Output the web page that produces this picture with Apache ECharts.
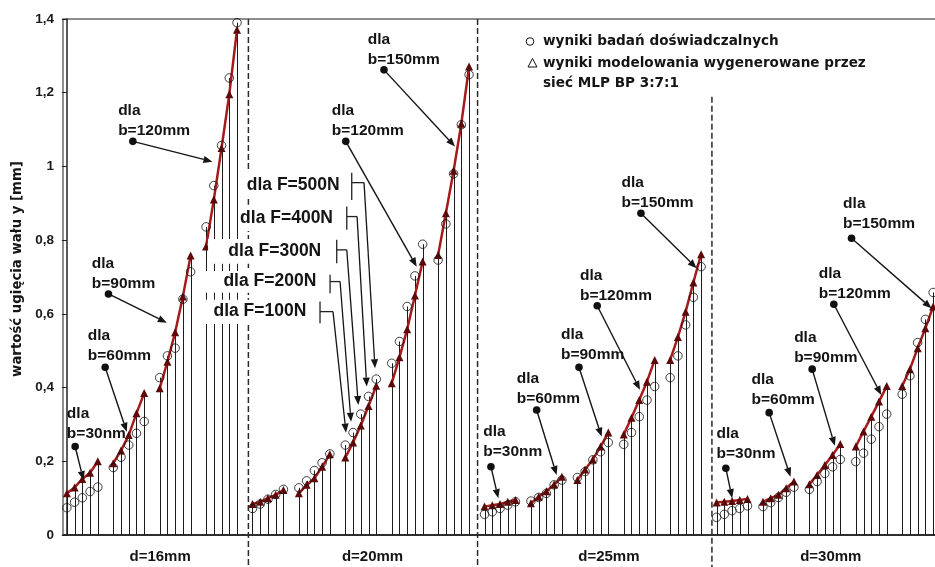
<!DOCTYPE html>
<html>
<head>
<meta charset="utf-8">
<script src="https://cdn.jsdelivr.net/npm/echarts@6/dist/echarts.min.js"></script>
<style>
  html, body { margin: 0; padding: 0; background: #fff; }
  #chart { width: 935px; height: 567px; }
</style>
</head>
<body>
<div id="chart"></div>
<script>
// Shaft deflection y [mm]: experiment vs. MLP BP 3:7:1 network model,
// grouped by shaft diameter d, then bearing spacing b, then load F.
const diameters = ['d=16mm', 'd=20mm', 'd=25mm', 'd=30mm'];
const widthsD16 = [30, 60, 90, 120];
const widthsOther = [30, 60, 90, 120, 150];
const forcesN = [100, 200, 300, 400, 500];
const yTicks = [0, 0.2, 0.4, 0.6, 0.8, 1, 1.2, 1.4];

// rows: b values, columns: F = 100..500 N
const expD16 = [
  [0.074, 0.089, 0.101, 0.118, 0.130],
  [0.183, 0.211, 0.244, 0.276, 0.308],
  [0.427, 0.486, 0.507, 0.640, 0.714],
  [0.836, 0.948, 1.057, 1.240, 1.390]
];
const modelD16 = [
  [0.113, 0.129, 0.152, 0.169, 0.200],
  [0.195, 0.229, 0.271, 0.330, 0.385],
  [0.398, 0.470, 0.550, 0.647, 0.758],
  [0.783, 0.910, 1.050, 1.196, 1.371]
];
const expD20 = [
  [0.072, 0.084, 0.097, 0.110, 0.124],
  [0.128, 0.147, 0.175, 0.196, 0.220],
  [0.244, 0.278, 0.328, 0.376, 0.423],
  [0.466, 0.525, 0.620, 0.703, 0.789],
  [0.746, 0.844, 0.980, 1.113, 1.249]
];
const modelD20 = [
  [0.084, 0.090, 0.100, 0.109, 0.122],
  [0.113, 0.136, 0.154, 0.185, 0.219],
  [0.210, 0.251, 0.297, 0.350, 0.405],
  [0.412, 0.482, 0.558, 0.650, 0.742],
  [0.760, 0.873, 0.988, 1.116, 1.271]
];
const expD25 = [
  [0.056, 0.063, 0.072, 0.081, 0.090],
  [0.092, 0.102, 0.113, 0.136, 0.149],
  [0.156, 0.172, 0.204, 0.226, 0.251],
  [0.246, 0.278, 0.321, 0.366, 0.403],
  [0.427, 0.486, 0.570, 0.645, 0.728]
];
const modelD25 = [
  [0.077, 0.081, 0.084, 0.090, 0.095],
  [0.086, 0.104, 0.119, 0.137, 0.158],
  [0.149, 0.178, 0.205, 0.240, 0.278],
  [0.273, 0.318, 0.366, 0.416, 0.475],
  [0.475, 0.537, 0.606, 0.685, 0.762]
];
const expD30 = [
  [0.048, 0.056, 0.066, 0.072, 0.079],
  [0.077, 0.088, 0.102, 0.116, 0.130],
  [0.124, 0.145, 0.167, 0.185, 0.205],
  [0.199, 0.222, 0.260, 0.294, 0.328],
  [0.382, 0.432, 0.522, 0.585, 0.658]
];
const modelD30 = [
  [0.088, 0.090, 0.092, 0.095, 0.098],
  [0.090, 0.100, 0.109, 0.127, 0.145],
  [0.138, 0.163, 0.190, 0.217, 0.247],
  [0.240, 0.281, 0.321, 0.362, 0.404],
  [0.404, 0.450, 0.507, 0.561, 0.620]
];

const groups = [
  { widths: widthsD16,   exp: expD16, model: modelD16 },
  { widths: widthsOther, exp: expD20, model: modelD20 },
  { widths: widthsOther, exp: expD25, model: modelD25 },
  { widths: widthsOther, exp: expD30, model: modelD30 }
];

// Each (d, b, F) case gets its own slot on the x scale; one empty slot
// separates consecutive b-series (and consecutive diameters).
const expPts = [], modelPts = [], dropPts = [];
let slot = 0;
groups.forEach(g => {
  g.widths.forEach((b, bi) => {
    forcesN.forEach((f, fi) => {
      const e = g.exp[bi][fi], m = g.model[bi][fi];
      expPts.push([slot, e]);
      modelPts.push([slot, m]);
      dropPts.push([slot, Math.max(e, m)]);
      slot++;
    });
    modelPts.push([slot, '-']);   // break the model line between b-series
    slot++;
  });
});

// ---- annotation layout, in axis units (slot, deflection) ----
// [label, text x, text y (block centre), dot x, dot y, arrow tip x, arrow tip y]
const bCallouts = [
  ['dla\nb=30nm',   0.00, 0.302,   1.07, 0.240,   2.15, 0.149],
  ['dla\nb=60mm',   2.71, 0.514,   4.95, 0.455,   7.75, 0.280],
  ['dla\nb=90mm',   3.23, 0.710,   5.38, 0.654,  12.92, 0.576],
  ['dla\nb=120mm',  6.63, 1.124,   8.53, 1.068,  18.82, 1.013],
  ['dla\nb=120mm', 34.25, 1.124,  36.06, 1.068,  45.23, 0.728],
  ['dla\nb=150mm', 38.90, 1.317,  41.00, 1.262,  50.18, 1.054],
  ['dla\nb=30nm',  53.84, 0.252,  54.83, 0.185,  55.78, 0.100],
  ['dla\nb=60mm',  58.16, 0.398,  60.74, 0.339,  63.32, 0.163],
  ['dla\nb=90mm',  63.88, 0.516,  66.21, 0.455,  69.14, 0.267],
  ['dla\nb=120mm', 66.34, 0.676,  68.57, 0.622,  74.10, 0.394],
  ['dla\nb=150mm', 71.72, 0.928,  74.22, 0.873,  81.42, 0.724],
  ['dla\nb=30nm',  84.00, 0.249,  85.20, 0.181,  86.02, 0.100],
  ['dla\nb=60mm',  88.52, 0.394,  90.80, 0.332,  93.56, 0.158],
  ['dla\nb=90mm',  94.03, 0.507,  96.36, 0.450,  99.29, 0.242],
  ['dla\nb=120mm', 97.22, 0.682,  99.16, 0.626, 105.30, 0.380],
  ['dla\nb=150mm',100.36, 0.872, 101.45, 0.805, 111.79, 0.615]
];
// load callouts pointing into the d=20mm, b=90mm series
const fCallouts = [
  { text: 'dla F=500N', tx: 23.26, ty: 0.950, box: [22.78, 36.22, 0.912, 0.988], barX: 36.83, bar: [0.909, 0.983], stubY: 0.956, stubX: 38.42, tip: [39.84, 0.4525] },
  { text: 'dla F=400N', tx: 22.40, ty: 0.860, box: [22.14, 35.58, 0.825, 0.896], barX: 36.19, bar: [0.828, 0.891], stubY: 0.864, stubX: 37.52, tip: [38.77, 0.4026] },
  { text: 'dla F=300N', tx: 20.88, ty: 0.769, box: [18.26, 34.28, 0.736, 0.803], barX: 34.89, bar: [0.7375, 0.801], stubY: 0.7736, stubX: 36.19, tip: [37.68, 0.353] },
  { text: 'dla F=200N', tx: 20.24, ty: 0.6876, box: [17.23, 33.51, 0.657, 0.7166], barX: 34.03, bar: [0.656, 0.7058], stubY: 0.6876, stubX: 35.32, tip: [36.74, 0.3075] },
  { text: 'dla F=100N', tx: 18.95, ty: 0.6061, box: [17.23, 32.22, 0.5727, 0.638], barX: 32.73, bar: [0.5747, 0.6333], stubY: 0.6061, stubX: 34.41, tip: [36.09, 0.2777] }
];
// dashed separators between diameters: [x, top]
const separators = [[23.47, 1.4], [53.1, 1.4], [83.4, 1.189]];
const separatorBottom = -0.09;
// centres of the diameter captions under the axis
const diameterLabelX = [12.06, 39.52, 70.08, 98.77];
const diameterLabelY = -0.058;

const ARIAL = '"Liberation Sans", Arial, sans-serif';
const VERDANA = '"DejaVu Sans", Verdana, sans-serif';

const chart = echarts.init(document.getElementById('chart'), null, { renderer: 'canvas' });

chart.setOption({
  animation: false,
  backgroundColor: '#ffffff',
  grid: {
    left: 63, top: 19, width: 874, height: 516,
    show: true, borderColor: '#6a6a6a', borderWidth: 1.5,
    containLabel: false, outerBoundsMode: 'none'
  },
  xAxis: {
    type: 'value', min: -0.5, max: 112.5,
    axisLine: { show: true, onZero: false, lineStyle: { color: '#111', width: 1.5 } },
    axisTick: { show: false }, axisLabel: { show: false }, splitLine: { show: false }
  },
  yAxis: {
    type: 'value', min: 0, max: 1.4, interval: 0.2,
    axisLine: { show: true, lineStyle: { color: '#222', width: 1.5 } },
    axisTick: { show: true, length: 5, lineStyle: { color: '#222', width: 1 } },
    splitLine: { show: false },
    axisLabel: {
      margin: 9, color: '#1a1a1a', fontWeight: 'bold', fontSize: 13.5, fontFamily: ARIAL,
      formatter: v => {
        const t = yTicks.find(k => Math.abs(k - v) < 1e-6);
        return String(t !== undefined ? t : v).replace('.', ',');
      }
    }
  },
  series: [
    {
      type: 'custom', name: 'drop', data: dropPts, z: 1, silent: true,
      renderItem: (params, api) => {
        const base = api.coord([api.value(0), 0]);
        const top = api.coord([api.value(0), api.value(1)]);
        const x = Math.round(base[0]) + 0.5;
        return {
          type: 'line',
          shape: { x1: x, y1: base[1], x2: x, y2: top[1] },
          style: { stroke: '#1c1c1c', lineWidth: 1 }
        };
      }
    },
    {
      type: 'line', name: 'model', data: modelPts, z: 3,
      symbol: 'triangle', symbolSize: 8, showSymbol: true, connectNulls: false,
      lineStyle: { color: '#a51a1a', width: 2.5 },
      itemStyle: { color: '#5e0909' }
    },
    {
      type: 'scatter', name: 'experiment', data: expPts, z: 4,
      symbol: 'circle', symbolSize: 8.5,
      itemStyle: { color: 'rgba(255,255,255,0)', borderColor: '#111', borderWidth: 1 }
    }
  ]
});

// ---- overlay: separators, callouts, legend, captions ----
const P = (x, y) => chart.convertToPixel({ gridIndex: 0 }, [x, y]);

function arrow(p0, p1, z, width) {
  const dx = p1[0] - p0[0], dy = p1[1] - p0[1];
  const len = Math.hypot(dx, dy);
  const ux = dx / len, uy = dy / len;
  const L = 9, w = 3.6;
  const bx = p1[0] - ux * L, by = p1[1] - uy * L;
  return [
    { type: 'line', z, shape: { x1: p0[0], y1: p0[1], x2: bx, y2: by },
      style: { stroke: '#151515', lineWidth: width } },
    { type: 'polygon', z, shape: { points: [p1, [bx - uy * w, by + ux * w], [bx + uy * w, by - ux * w]] },
      style: { fill: '#151515' } }
  ];
}

const els = [];

separators.forEach(([sx, top]) => {
  const a = P(sx, top), b = P(sx, separatorBottom);
  els.push({ type: 'line', z: 5, shape: { x1: a[0], y1: a[1], x2: b[0], y2: b[1] },
    style: { stroke: '#2a2a2a', lineWidth: 1.5, lineDash: [6, 3] } });
});

bCallouts.forEach(([label, tx, ty, dx, dy, ax, ay]) => {
  const t = P(tx, ty), d = P(dx, dy), tip = P(ax, ay);
  els.push({ type: 'text', z: 12, x: t[0], y: t[1],
    style: { text: label, font: 'bold 15.5px ' + ARIAL, fill: '#141414',
      align: 'left', verticalAlign: 'middle', lineHeight: 20 } });
  els.push(...arrow(d, tip, 12, 1.4));
  els.push({ type: 'circle', z: 12, shape: { cx: d[0], cy: d[1], r: 3.8 }, style: { fill: '#101010' } });
});

fCallouts.forEach(c => {
  const b0 = P(c.box[0], c.box[3]), b1 = P(c.box[1], c.box[2]);
  els.push({ type: 'rect', z: 10, shape: { x: b0[0], y: b0[1], width: b1[0] - b0[0], height: b1[1] - b0[1] },
    style: { fill: '#ffffff' } });
  const t = P(c.tx, c.ty);
  els.push({ type: 'text', z: 11, x: t[0], y: t[1],
    style: { text: c.text, font: 'bold 17.5px ' + ARIAL, fill: '#141414', align: 'left', verticalAlign: 'middle' } });
  const barTop = P(c.barX, c.bar[1]), barBot = P(c.barX, c.bar[0]);
  const stub0 = P(c.barX, c.stubY), stub1 = P(c.stubX, c.stubY);
  els.push({ type: 'line', z: 11, shape: { x1: barTop[0], y1: barTop[1], x2: barBot[0], y2: barBot[1] },
    style: { stroke: '#222', lineWidth: 1.3 } });
  els.push({ type: 'line', z: 11, shape: { x1: stub0[0], y1: stub0[1], x2: stub1[0], y2: stub1[1] },
    style: { stroke: '#222', lineWidth: 1.3 } });
  els.push(...arrow(stub1, P(c.tip[0], c.tip[1]), 11, 1.3));
});

// legend
els.push({ type: 'circle', z: 12, shape: { cx: 530, cy: 41.5, r: 3.8 },
  style: { fill: 'none', stroke: '#111', lineWidth: 1 } });
els.push({ type: 'polygon', z: 12, shape: { points: [[532.5, 58.5], [528, 67], [537, 67]] },
  style: { fill: 'none', stroke: '#111', lineWidth: 1 } });
[['wyniki badań doświadczalnych', 41.5],
 ['wyniki modelowania wygenerowane przez', 63],
 ['sieć MLP BP 3:7:1', 83.5]].forEach(([txt, y]) => {
  els.push({ type: 'text', z: 12, x: 543, y,
    style: { text: txt, font: 'bold 13.6px ' + VERDANA, fill: '#151515', align: 'left', verticalAlign: 'middle' } });
});

// axis title
els.push({ type: 'text', z: 12, x: 18, y: 269, rotation: Math.PI / 2,
  style: { text: 'wartość ugięcia wału y [mm]', font: 'bold 13.3px ' + VERDANA, fill: '#151515',
    align: 'center', verticalAlign: 'middle' } });

// diameter captions
diameters.forEach((name, i) => {
  const p = P(diameterLabelX[i], diameterLabelY);
  els.push({ type: 'text', z: 12, x: p[0], y: p[1],
    style: { text: name, font: 'bold 15px ' + ARIAL, fill: '#141414', align: 'center', verticalAlign: 'middle' } });
});

chart.setOption({ graphic: { elements: els } });
</script>
</body>
</html>
